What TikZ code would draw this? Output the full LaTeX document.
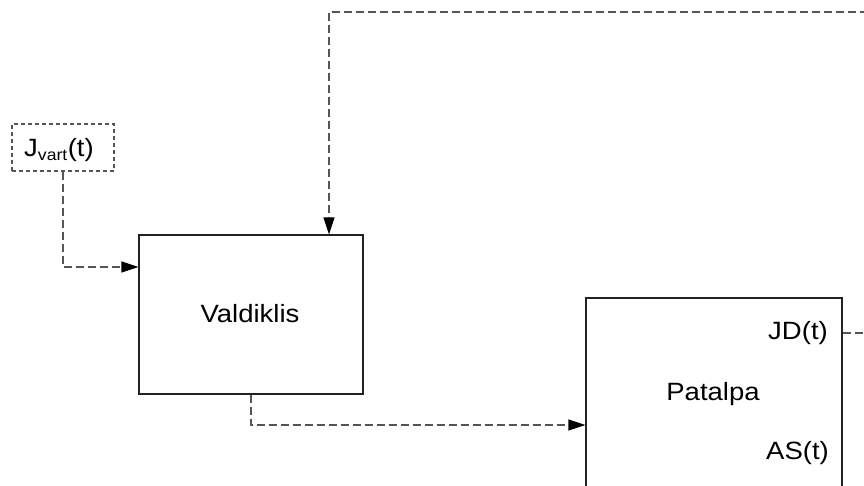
\documentclass[tikz,border=0pt]{standalone}
\usepackage{fontspec}
\setmainfont{Liberation Sans}[FakeStretch=1.1]
\usetikzlibrary{arrows.meta}
\definecolor{dashgray}{HTML}{555555}
\definecolor{boxgray}{HTML}{222222}
\tikzset{
  blockbox/.style={draw=boxgray, line width=1.1pt, inner sep=0pt},
  inbox/.style={draw=dashgray, line width=1.1pt, dash pattern=on 4pt off 3pt, inner sep=0pt},
  sig/.style={draw=dashgray, line width=1.2pt, dash pattern=on 8pt off 4pt, -{Triangle[length=17pt,width=11pt,fill=black,color=black]}},
  signoarrow/.style={draw=dashgray, line width=1.2pt, dash pattern=on 8pt off 4pt},
  lbl/.style={font=\fontsize{25}{29}\selectfont, inner sep=0pt, text=black}
}
\begin{document}
\begin{tikzpicture}[x=1pt,y=-1pt]
\clip (0,0) rectangle (864,486);
\fill[white] (0,0) rectangle (864,486);
% blocks
\node[inbox, minimum width=102pt, minimum height=47pt] (jv) at (63,147.5) {};
\node[lbl] (jvl) at (59,150) {J\textsubscript{\fontsize{16}{18}\selectfont vart}(t)};
\node[blockbox, minimum width=224pt, minimum height=159pt] (vald) at (251,314.5) {};
\node[lbl] (valdl) at (250,314) {Valdiklis};
\node[blockbox, minimum width=256pt, minimum height=240pt] (pat) at (714,418) {};
\node[lbl] (patl) at (713,394) {Patalpa};
\node[lbl, anchor=east] (jd) at (828,333) {JD(t)};
\node[lbl, anchor=east] (as) at (829,453) {AS(t)};
% helper coordinates
\coordinate (c1) at (63,267);
\coordinate (c2) at (251,425);
\coordinate (c3) at (329,12);
\coordinate (c4) at (880,12);
\coordinate (c5) at (880,333);
% connectors
\draw[sig] (jv.south) -- (c1) -- (vald.west |- c1);
\draw[sig] (vald.south -| c2) -- (c2) -- (pat.west |- c2);
\draw[sig] (c4) -- (c3) -- (vald.north -| c3);
\draw[signoarrow] (pat.east |- c5) -- (c5);
\end{tikzpicture}
\end{document}
